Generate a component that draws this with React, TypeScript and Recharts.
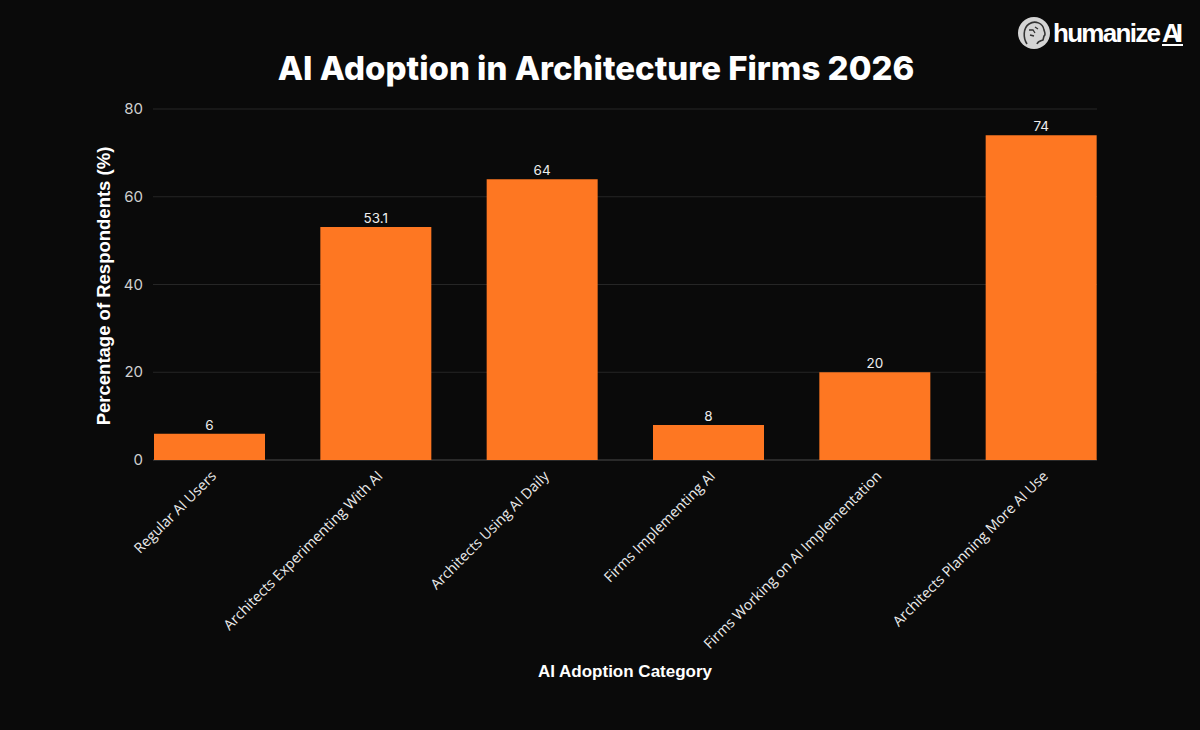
import React from "react";
import {
  BarChart,
  Bar,
  XAxis,
  YAxis,
  CartesianGrid,
  LabelList,
} from "recharts";

const categories = [
  "Regular AI Users",
  "Architects Experimenting With AI",
  "Architects Using AI Daily",
  "Firms Implementing AI",
  "Firms Working on AI Implementation",
  "Architects Planning More AI Use",
];
const percentages = [6, 53.1, 64, 8, 20, 74];
const yTicks = [0, 20, 40, 60, 80];

const data = categories.map((name, i) => ({ name, value: percentages[i] }));

const BG = "#0a0a0a";
const ORANGE = "#fe7722";

const XTick = (props: any) => {
  const { x, y, payload } = props;
  return (
    <text
      transform={`translate(${x + 8},${y + 17}) rotate(-45)`}
      textAnchor="end"
      fill="#ececec"
      fontSize={14.3}
      fontFamily="'Open Sans', sans-serif"
    >
      {payload.value}
    </text>
  );
};

const YTick = (props: any) => {
  const { x, y, payload } = props;
  return (
    <text
      x={x + 17}
      y={y}
      dy={5}
      textAnchor="end"
      fill="#d0d0d0"
      fontSize={15}
      fontFamily="Inter, sans-serif"
    >
      {payload.value}
    </text>
  );
};

const GridLine = (props: any) => {
  const { x1, x2, y1, y2, y, height } = props;
  const isZero = Math.abs(y1 - (y + height)) < 0.5;
  return (
    <line
      x1={x1}
      x2={x2}
      y1={y1}
      y2={y2}
      stroke={isZero ? "#4a4a4a" : "#262626"}
      strokeWidth={1}
    />
  );
};

const Logo = () => (
  <g>
    <circle cx={1034} cy={33} r={16} fill="#d4d4d4" />
    <path
      d="M1027 44 C1023 38 1023 28 1029 24 C1035 20 1043 23 1044 30 C1045 33 1046 35 1044 36 L1043 40 C1040 41 1038 41 1037 44"
      fill="none"
      stroke="#333"
      strokeWidth={1.6}
    />
    <path
      d="M1029 30 L1033 30 L1035 33 M1030 35 L1034 36 M1035 27 L1038 29"
      fill="none"
      stroke="#333"
      strokeWidth={1.3}
    />
    <text
      x={1053}
      y={42}
      fill="#ffffff"
      fontSize={26}
      fontWeight={700}
      fontFamily="'Liberation Sans', Arial, sans-serif"
      textLength={108}
    >
      humanize
    </text>
    <text
      x={1162}
      y={42}
      fill="#ffffff"
      fontSize={26}
      fontWeight={700}
      fontFamily="'Liberation Sans', Arial, sans-serif"
      textLength={21}
    >
      AI
    </text>
    <line x1={1162} x2={1183} y1={45} y2={45} stroke="#ffffff" strokeWidth={2} />
  </g>
);

export default function App() {
  return (
    <div
      style={{
        position: "absolute",
        left: 0,
        top: 0,
        width: 1200,
        height: 730,
        background: BG,
      }}
    >
      <BarChart
        width={1200}
        height={730}
        data={data}
        margin={{ top: 109, right: 76, bottom: 0, left: 0 }}
      >
        <CartesianGrid
          vertical={false}
          x={153}
          width={944}
          horizontal={GridLine}
        />
        <XAxis
          dataKey="name"
          height={270}
          interval={0}
          axisLine={false}
          tickLine={false}
          tickSize={0}
          tickMargin={0}
          tick={XTick}
        />
        <YAxis
          width={126}
          domain={[0, 80]}
          ticks={yTicks}
          axisLine={false}
          tickLine={false}
          tickSize={0}
          tickMargin={0}
          tick={YTick}
        />
        <Bar dataKey="value" fill={ORANGE} barSize={111} isAnimationActive={false}>
          <LabelList
            dataKey="value"
            position="top"
            offset={4}
            fill="#eeeeee"
            fontSize={13.5}
            fontFamily="Inter, sans-serif"
          />
        </Bar>
      </BarChart>
      <svg
        width={1200}
        height={730}
        style={{ position: "absolute", left: 0, top: 0, pointerEvents: "none" }}
      >
        <text
          x={596}
          y={80}
          textAnchor="middle"
          fill="#ffffff"
          fontSize={33}
          fontWeight={800}
          fontFamily="Inter, sans-serif"
        >
          AI Adoption in Architecture Firms 2026
        </text>
        <text
          transform="translate(110,286) rotate(-90)"
          textAnchor="middle"
          fill="#ffffff"
          fontSize={18.5}
          fontWeight={700}
          fontFamily="'Liberation Sans', Arial, sans-serif"
        >
          Percentage of Respondents (%)
        </text>
        <text
          x={625}
          y={677}
          textAnchor="middle"
          fill="#ffffff"
          fontSize={17}
          fontWeight={700}
          fontFamily="'Liberation Sans', Arial, sans-serif"
        >
          AI Adoption Category
        </text>
        <Logo />
      </svg>
    </div>
  );
}
